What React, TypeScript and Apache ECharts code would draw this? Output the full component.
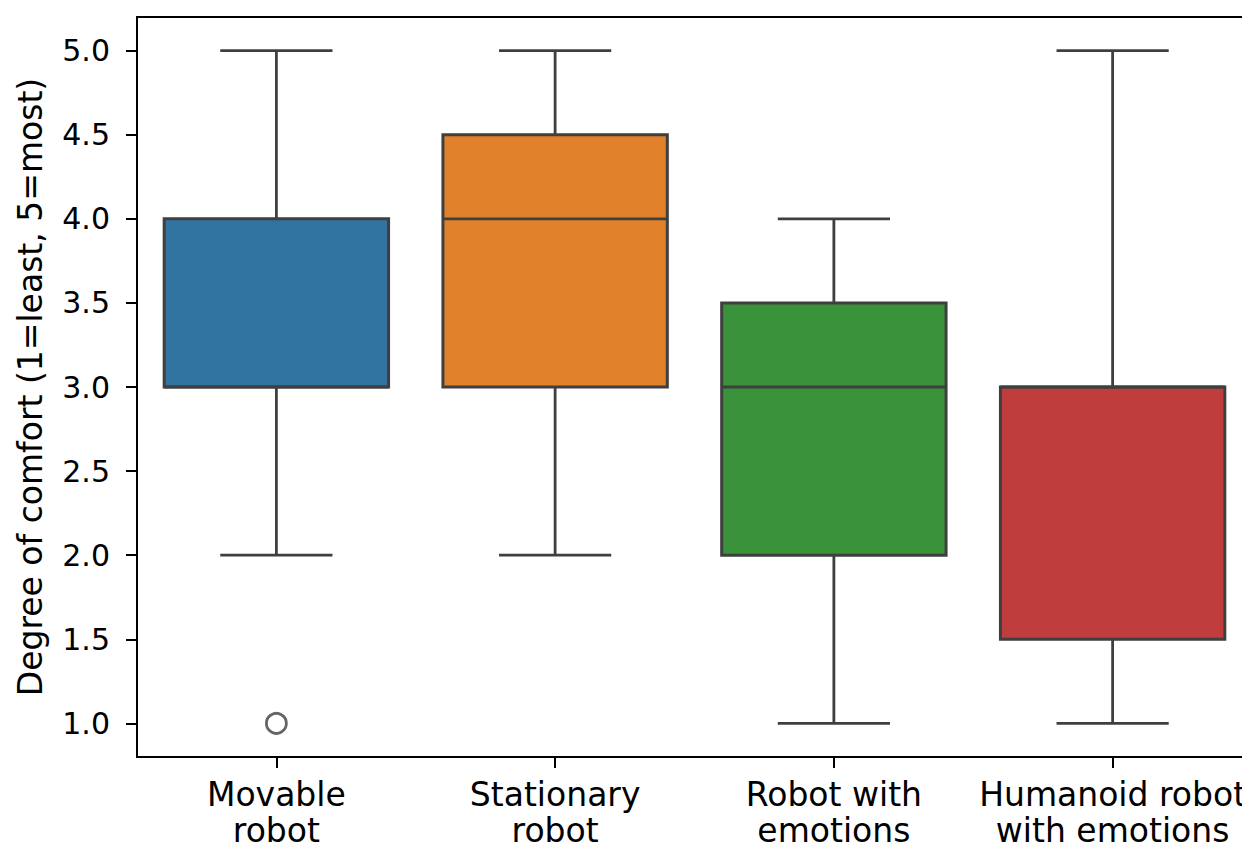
import React, { useEffect, useRef } from "react";
import * as echarts from "echarts";

const categories = [
  "Movable\nrobot",
  "Stationary\nrobot",
  "Robot with\nemotions",
  "Humanoid robot\nwith emotions",
];
const lowWhisker = [2, 2, 1, 1];
const q1 = [3, 3, 2, 1.5];
const median = [3, 4, 3, 3];
const q3 = [4, 4.5, 3.5, 3];
const highWhisker = [5, 5, 4, 5];
const boxColors = ["#3274a1", "#e1812c", "#3a923a", "#c03d3e"];
const outliers: [number, number][] = [[0, 1]];
const yTicks = [1.0, 1.5, 2.0, 2.5, 3.0, 3.5, 4.0, 4.5, 5.0];
const yTitle = "Degree of comfort (1=least, 5=most)";

const FONT = "DejaVu Sans";
const EDGE = "#3f3f3f";

export default function App() {
  const ref = useRef<HTMLDivElement>(null);
  useEffect(() => {
    if (!ref.current) return;
    const chart = echarts.init(ref.current, null, { renderer: "svg" });
    const boxData = categories.map((_, i) => [
      i,
      lowWhisker[i],
      q1[i],
      median[i],
      q3[i],
      highWhisker[i],
    ]);
    chart.setOption({
      animation: false,
      grid: {
        left: 137,
        top: 17,
        width: 1115,
        height: 740,
        show: true,
        borderColor: "#000",
        borderWidth: 2,
        backgroundColor: "transparent",
        containLabel: false,
        outerBoundsMode: "none",
      },
      xAxis: {
        type: "category",
        data: categories,
        boundaryGap: true,
        axisLine: { show: true, lineStyle: { color: "#000", width: 2 } },
        axisTick: {
          show: true,
          alignWithLabel: true,
          length: 11,
          lineStyle: { color: "#000", width: 2 },
        },
        axisLabel: {
          margin: 19,
          color: "#000",
          fontFamily: FONT,
          fontSize: 33,
          lineHeight: 36,
          interval: 0,
          hideOverlap: false,
        },
        splitLine: { show: false },
      },
      yAxis: {
        type: "value",
        min: 0.8,
        max: 5.2,
        name: yTitle,
        nameLocation: "middle",
        nameRotate: 90,
        nameGap: 90,
        nameTextStyle: { color: "#000", fontFamily: FONT, fontSize: 33 },
        axisLine: { show: true, lineStyle: { color: "#000", width: 2 } },
        axisTick: {
          show: true,
          length: 11,
          customValues: yTicks,
          lineStyle: { color: "#000", width: 2 },
        },
        axisLabel: {
          margin: 27,
          customValues: yTicks,
          color: "#000",
          fontFamily: FONT,
          fontSize: 30,
          formatter: (v: number) => v.toFixed(1),
        },
        splitLine: { show: false },
      },
      series: [
        {
          type: "custom",
          data: boxData,
          encode: { x: 0, y: [1, 2, 3, 4, 5] },
          clip: false,
          renderItem: (params: any, api: any) => {
            const idx = api.value(0);
            const lo = api.value(1);
            const a = api.value(2);
            const m = api.value(3);
            const b = api.value(4);
            const hi = api.value(5);
            const band = api.size([1, 0])[0];
            const boxW = band * 0.805;
            const capW = boxW * 0.5;
            const [cx, yLo] = api.coord([idx, lo]);
            const yA = api.coord([idx, a])[1];
            const yM = api.coord([idx, m])[1];
            const yB = api.coord([idx, b])[1];
            const yHi = api.coord([idx, hi])[1];
            const ls = { stroke: EDGE, lineWidth: 2.8 };
            return {
              type: "group",
              children: [
                { type: "line", shape: { x1: cx, y1: yA, x2: cx, y2: yLo }, style: ls },
                { type: "line", shape: { x1: cx, y1: yB, x2: cx, y2: yHi }, style: ls },
                { type: "line", shape: { x1: cx - capW / 2, y1: yLo, x2: cx + capW / 2, y2: yLo }, style: ls },
                { type: "line", shape: { x1: cx - capW / 2, y1: yHi, x2: cx + capW / 2, y2: yHi }, style: ls },
                {
                  type: "rect",
                  shape: { x: cx - boxW / 2, y: yB, width: boxW, height: yA - yB },
                  style: { fill: boxColors[idx], stroke: EDGE, lineWidth: 3 },
                },
                { type: "line", shape: { x1: cx - boxW / 2, y1: yM, x2: cx + boxW / 2, y2: yM }, style: ls },
              ],
            };
          },
          z: 2,
        },
        {
          type: "scatter",
          data: outliers,
          symbol: "circle",
          symbolSize: 20,
          itemStyle: { color: "#fff", borderColor: EDGE, borderWidth: 2.8 },
          z: 3,
        },
      ],
    });
    return () => chart.dispose();
  }, []);
  return (
    <div
      ref={ref}
      style={{ position: "absolute", left: 0, top: 0, width: 1242, height: 848, background: "#fff" }}
    />
  );
}
